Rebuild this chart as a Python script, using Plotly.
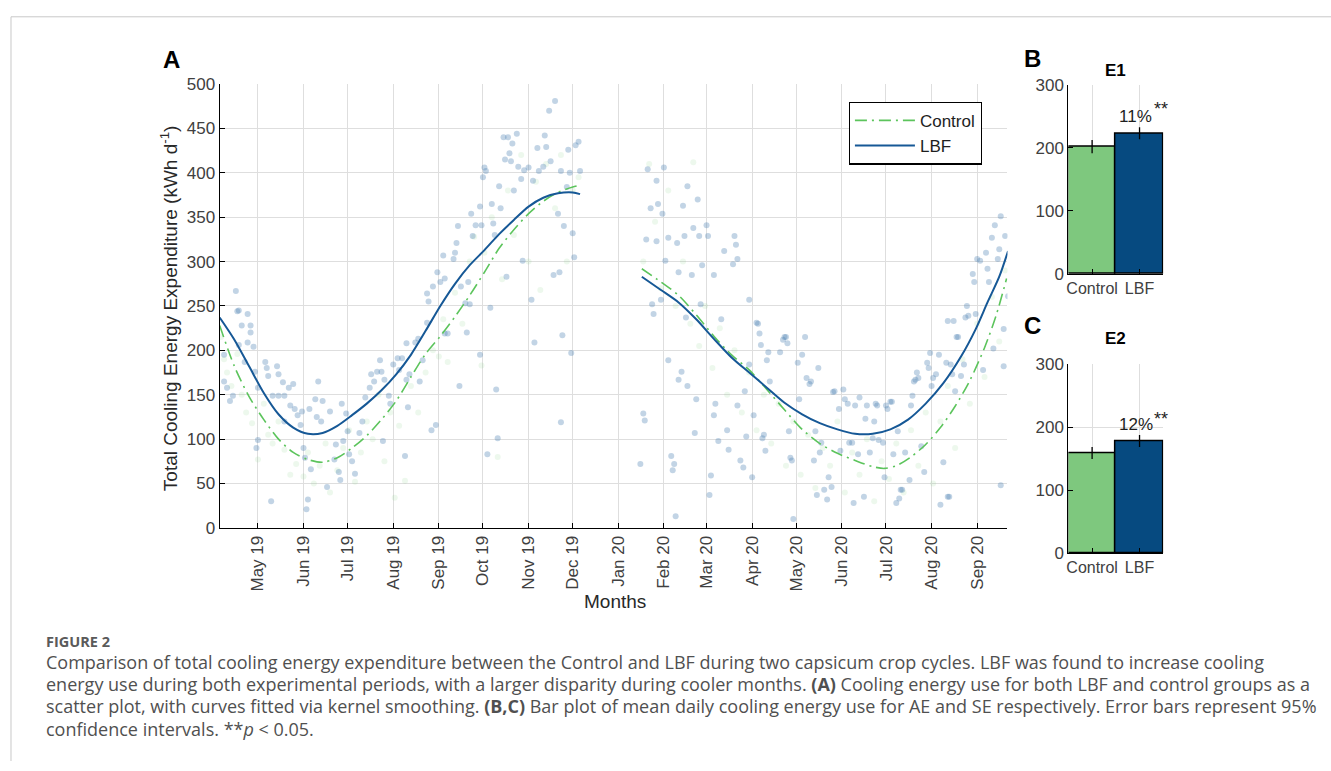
import pandas as pd
import plotly.graph_objects as go

W, H = 1331, 771

# ---------------- data ----------------
start_date = "2019-04-05"

# LBF daily cooling energy (day offset from start_date, kWh/d)
lbf_day = [3, 3, 5, 7, 9, 12, 15, 13, 19, 21, 23, 17, 24, 26, 26, 25, 31, 32, 33, 35, 36, 39, 40, 40, 43, 44, 47, 44, 48,
           50, 51, 53, 55, 56, 57, 58, 60, 61, 59, 62, 65, 66, 67, 69, 70, 73, 75, 78, 79, 81, 82, 83, 84, 86, 87, 88,
           90, 92, 95, 97, 99, 102, 103, 105, 107, 109, 110, 111, 112, 115, 116, 118, 121, 124, 122, 126, 127, 128, 129,
           127, 133, 135, 136, 138, 141, 144, 147, 153, 155, 163, 168, 170, 177, 182, 184, 188, 189, 214, 232, 233, 239,
           11, 13, 19, 21, 141, 142, 145, 148, 150, 152, 153, 159, 160, 161, 162, 164, 167, 169, 171, 172, 174, 177, 178,
           179, 180, 181, 185, 186, 187, 190, 191, 193, 194, 195, 196, 197, 198, 199, 200, 202, 203, 205, 206, 207, 210,
           212, 213, 216, 217, 220, 221, 222, 224, 225, 227, 228, 230, 231, 232, 234, 236, 237, 238, 240, 241, 242, 244,
           245,
           291, 297, 293, 298, 301, 302, 290, 297, 300, 294, 295, 305, 311, 315, 316, 303, 312, 318, 322, 321, 317, 325,
           326, 328, 331, 332, 327, 336, 341, 343, 349, 350, 351, 352, 360, 366, 384, 398, 495, 499, 508, 512, 515, 517,
           521, 522, 525, 527, 531, 534, 530, 529, 513, 523, 536, 533, 507, 501,
           288, 289, 286, 305, 314, 312, 318, 307, 309, 308, 310, 324, 323, 334, 333, 337, 336, 339, 345, 346, 352, 354,
           356, 358, 357, 360, 362, 363, 365, 367, 368, 369, 370, 371, 372, 373, 374, 381, 383, 385, 386, 387, 388, 389,
           390, 393, 394, 396, 399, 402, 401, 404, 405, 406, 407, 408, 409, 411, 413, 414, 416, 417, 418, 421, 422, 424,
           425, 427, 428, 430, 431, 432, 434, 435, 438, 439, 440, 442, 444, 445, 446, 447, 448, 451, 452, 453, 454, 456,
           457, 458, 460, 461, 462, 463, 464, 466, 469, 470, 471, 472, 473, 474, 475, 477, 479, 481, 482, 483, 484, 485,
           487, 489, 490, 492, 494, 495, 496, 497, 498, 500, 502, 504, 506, 509, 514, 519, 526, 533, 531]
lbf_val = [195, 165, 158, 143, 149, 244, 228, 206, 209, 220, 204, 187, 176, 158, 99, 90, 187, 180, 171, 30, 149, 182, 173,
           149, 164, 149, 158, 120, 138, 162, 134, 127, 116, 131, 90, 79, 32, 134, 21, 66, 145, 125, 165, 120, 143, 46,
           131, 77, 94, 63, 54, 140, 98, 129, 109, 83, 75, 61, 107, 120, 147, 158, 173, 165, 176, 189, 176, 98, 167, 149,
           140, 184, 191, 191, 178, 81, 167, 136, 173, 208, 209, 213, 165, 189, 231, 110, 116, 219, 219, 160, 220, 252,
           195, 83, 248, 156, 101, 209, 119, 217, 197,
           267, 245, 241, 228, 264, 255, 272, 288, 277, 307, 281, 303, 310, 321, 340, 272, 253, 277, 354, 329, 341, 362,
           341, 395, 406, 402, 365, 343, 330, 385, 360, 440, 415, 283, 440, 422, 413, 433, 380, 444, 407, 393, 301, 403,
           406, 257, 391, 428, 402, 407, 442, 429, 470, 413, 285, 481, 354, 288, 402, 340, 384, 426, 400, 332, 305, 431,
           435, 402,
           404, 391, 360, 365, 354, 406, 325, 323, 257, 252, 241, 327, 321, 363, 329, 301, 288, 385, 338, 285, 237, 370,
           329, 296, 341, 329, 252, 285, 235, 312, 297, 329, 319, 303, 257, 230, 215, 215, 233, 233, 250, 286, 303, 301,
           310, 292, 327, 341, 351, 329, 314, 303, 277, 277, 261, 224, 237, 215,
           129, 121, 72, 189, 176, 167, 160, 81, 72, 65, 13, 145, 107, 59, 37, 140, 127, 98, 110, 88, 138, 76, 68, 103,
           154, 184, 57, 127, 231, 219, 206, 101, 105, 87, 189, 198, 165, 198, 212, 215, 208, 109, 79, 76, 10, 186, 145,
           195, 169, 165, 162, 76, 109, 37, 180, 85, 96, 43, 32, 57, 46, 153, 154, 134, 87, 156, 145, 140, 96, 96, 28,
           138, 83, 147, 35, 123, 138, 85, 101, 120, 140, 138, 99, 96, 57, 138, 134, 142, 142, 83, 28, 109, 33, 43, 43,
           85, 54, 138, 149, 165, 167, 175, 169, 92, 63, 186, 180, 197, 160, 169, 173, 195, 26, 74, 186, 35, 35, 184,
           173, 154, 215, 171, 184, 239, 241, 178, 202, 182, 48]

# Control daily cooling energy (faint points)
ctl_day = [1, 3, 5, 8, 12, 15, 18, 22, 26, 30, 33, 36, 40, 44, 48, 52, 57, 60, 64, 68, 72, 75, 80, 84, 88, 92, 96, 100,
           104, 108, 112, 116, 119, 122, 126, 130, 135, 140, 145, 149, 152, 155, 160, 165, 170, 173, 178, 180, 185, 189,
           192, 196, 200, 205, 210, 215, 218, 222, 228, 232, 236, 240, 244,
           288, 292, 296, 300, 305, 310, 315, 320, 322, 326, 330, 335, 340, 345, 350, 355, 360, 365, 370, 375, 380, 385,
           390, 395, 400, 405, 410, 415, 420, 425, 430, 435, 440, 445, 450, 455, 460, 465, 470, 475, 480, 485, 490, 495,
           500, 505, 510, 515, 520, 525, 530, 534]
ctl_val = [215, 190, 175, 160, 196, 150, 130, 118, 77, 140, 105, 95, 120, 88, 60, 72, 58, 85, 50, 70, 95, 40, 65, 90,
           110, 52, 85, 120, 100, 150, 75, 130, 34, 115, 53, 160, 130, 175, 200, 193, 235, 187, 265, 230, 300, 328, 183,
           310, 350, 80, 280, 380, 330, 420, 300, 390, 268, 410, 360, 420, 300, 380, 395,
           300, 410, 345, 270, 380, 250, 300, 230, 412, 205, 250, 180, 225, 150, 200, 130, 175, 110, 150, 95, 140, 70,
           120, 60, 105, 45, 90, 70, 120, 40, 85, 60, 100, 30, 75, 55, 95, 40, 110, 70, 130, 50, 120, 160, 90, 190, 140,
           230, 170, 260, 210, 290]

# Kernel-smoothed fits (read at knots)
lbf_fit1_day = [0, 10, 20, 30, 40, 50, 60, 70, 80, 90, 100, 110, 120, 130, 140, 150, 160, 170, 180, 190, 200, 210, 220,
                230, 240, 245]
lbf_fit1_val = [237, 212, 182, 152, 128, 113, 106, 107, 115, 127, 140, 155, 173, 195, 222, 250, 275, 296, 313, 331,
                347, 362, 372, 377, 378, 376]
lbf_fit2_day = [287, 300, 312, 324, 336, 348, 360, 372, 384, 396, 408, 420, 432, 444, 456, 468, 480, 492, 504, 514, 522,
                530, 536]
lbf_fit2_val = [283, 268, 254, 235, 213, 192, 175, 158, 141, 128, 118, 111, 106, 106, 111, 122, 140, 163, 193, 224, 254,
                283, 312]
ctl_fit1_day = [0, 10, 20, 30, 40, 50, 60, 70, 80, 90, 100, 110, 120, 130, 140, 150, 160, 170, 180, 190, 200, 210, 220,
                230, 240, 245]
ctl_fit1_val = [228, 182, 148, 122, 100, 85, 77, 74, 79, 90, 104, 122, 143, 170, 196, 216, 238, 262, 288, 315, 336, 354,
                368, 378, 384, 386]
ctl_fit2_day = [287, 300, 312, 324, 336, 348, 360, 372, 384, 396, 408, 420, 432, 444, 452, 460, 470, 480, 490, 500, 510,
                520, 528, 535]
ctl_fit2_val = [292, 277, 262, 240, 216, 195, 178, 156, 133, 111, 95, 84, 76, 69, 67, 70, 80, 94, 113, 137, 166, 203, 240,
                281]

month_ticks = ["2019-05-01", "2019-06-01", "2019-07-01", "2019-08-01", "2019-09-01", "2019-10-01", "2019-11-01",
               "2019-12-01", "2020-01-01", "2020-02-01", "2020-03-01", "2020-04-01", "2020-05-01", "2020-06-01",
               "2020-07-01", "2020-08-01", "2020-09-01"]
month_labels = ["May 19", "Jun 19", "Jul 19", "Aug 19", "Sep 19", "Oct 19", "Nov 19", "Dec 19", "Jan 20", "Feb 20",
                "Mar 20", "Apr 20", "May 20", "Jun 20", "Jul 20", "Aug 20", "Sep 20"]

groups = ["Control", "LBF"]
e1_mean = [202, 223]
e1_ci = [10.5, 9.5]
e2_mean = [159, 178]
e2_ci = [9.5, 9.5]
e1_pct = "11%"
e2_pct = "12%"

# ---------------- helpers ----------------
base = pd.Timestamp(start_date)


def to_dates(days):
    return [base + pd.Timedelta(days=d) for d in days]


def with_gap(d1, v1, d2, v2):
    return to_dates(d1) + [None] + to_dates(d2), list(v1) + [None] + list(v2)


GREEN_LINE = "rgb(92,196,92)"
BLUE_LINE = "rgb(22,88,150)"
BAR_GREEN = "rgb(126,200,126)"
BAR_BLUE = "rgb(6,74,128)"
GRID = "rgb(222,222,222)"
TICKC = "rgb(64,64,64)"
FONT = "Liberation Sans, Arial, sans-serif"

fig = go.Figure()

# scatter points
fig.add_trace(go.Scatter(x=to_dates(ctl_day), y=ctl_val, mode="markers", showlegend=False,
                         marker=dict(size=6, color="rgb(110,195,110)", opacity=0.12, line=dict(width=0)),
                         xaxis="x", yaxis="y", hoverinfo="skip"))
fig.add_trace(go.Scatter(x=to_dates(lbf_day), y=lbf_val, mode="markers", showlegend=False,
                         marker=dict(size=6, color="rgb(70,125,175)", opacity=0.33, line=dict(width=0)),
                         xaxis="x", yaxis="y", hoverinfo="skip"))

# fitted curves
cx, cy = with_gap(ctl_fit1_day, ctl_fit1_val, ctl_fit2_day, ctl_fit2_val)
fig.add_trace(go.Scatter(x=cx, y=cy, mode="lines", name="Control", connectgaps=False,
                         line=dict(color=GREEN_LINE, width=1.6, dash="12px,5px,2px,5px", shape="spline",
                                   smoothing=0.8),
                         xaxis="x", yaxis="y"))
lx, ly = with_gap(lbf_fit1_day, lbf_fit1_val, lbf_fit2_day, lbf_fit2_val)
fig.add_trace(go.Scatter(x=lx, y=ly, mode="lines", name="LBF", connectgaps=False,
                         line=dict(color=BLUE_LINE, width=2, shape="spline", smoothing=0.8),
                         xaxis="x", yaxis="y"))

# bars
for means, cis, xa, ya in [(e1_mean, e1_ci, "x2", "y2"), (e2_mean, e2_ci, "x3", "y3")]:
    fig.add_trace(go.Bar(x=groups, y=means, width=1, showlegend=False,
                         marker=dict(color=[BAR_GREEN, BAR_BLUE], line=dict(color="black", width=1.5)),
                         error_y=dict(type="data", array=cis, color="black", thickness=1.3, width=0),
                         xaxis=xa, yaxis=ya))


# ---------------- layout ----------------
def px_x(p):
    return p / W


def px_y(p):
    return 1 - p / H


axA_x = [px_x(218), px_x(1007)]
axA_y = [px_y(532), px_y(77)]
axB_x = [px_x(1068), px_x(1163)]
axB_y = [px_y(271.7), px_y(77.7)]
axC_y = [px_y(557.7), px_y(364.3)]


def axis_style(size):
    return dict(showline=True, linecolor="black", linewidth=1.2, ticks="inside", ticklen=5, tickcolor="black",
                showgrid=True, gridcolor=GRID, gridwidth=1, zeroline=False,
                tickfont=dict(family=FONT, size=size, color=TICKC))


fig.update_layout(
    width=W, height=H, margin=dict(l=0, r=0, t=0, b=0), paper_bgcolor="white", plot_bgcolor="white",
    bargap=0, font=dict(family=FONT, color="black"),
    xaxis=dict(domain=axA_x, anchor="y", type="date",
               range=[base, base + pd.Timedelta(days=535.6)],
               tickvals=month_ticks, ticktext=month_labels, tickangle=-90, **axis_style(17)),
    yaxis=dict(domain=axA_y, anchor="x", range=[0, 500], dtick=50, **axis_style(17)),
    xaxis2=dict(domain=axB_x, anchor="y2", type="category", range=[-0.5, 1.5], **axis_style(16)),
    yaxis2=dict(domain=axB_y, anchor="x2", range=[0, 300], dtick=100, **axis_style(17)),
    xaxis3=dict(domain=axB_x, anchor="y3", type="category", range=[-0.5, 1.5], **axis_style(16)),
    yaxis3=dict(domain=axC_y, anchor="x3", range=[0, 300], dtick=100, **axis_style(17)),
    legend=dict(x=px_x(848), y=px_y(95), xanchor="left", yanchor="top", bgcolor="white",
                bordercolor="black", borderwidth=1.2, font=dict(family=FONT, size=17, color="rgb(30,30,30)"),
                tracegroupgap=0, itemwidth=60),
    showlegend=True,
)

ann = []


def add_text(x, y, text, size, bold=False, xanchor="center", color="black", angle=0, family=FONT, **kw):
    ann.append(dict(x=px_x(x), y=px_y(y), xref="paper", yref="paper", text=f"<b>{text}</b>" if bold else text,
                    showarrow=False, xanchor=xanchor, yanchor="middle", textangle=angle,
                    font=dict(family=family, size=size, color=color), **kw))


add_text(170, 52, "A", 24, bold=True)
add_text(1032, 51, "B", 24, bold=True)
add_text(1032, 324, "C", 24, bold=True)
add_text(1115, 63, "E1", 17, bold=True)
add_text(1115, 338, "E2", 17, bold=True)
add_text(614, 607, "Months", 19, color="rgb(40,40,40)")
add_text(168, 307, "Total Cooling Energy Expenditure (kWh d<sup>-1</sup>)", 19, angle=-90, color="rgb(40,40,40)")

# bar annotations: percentage labels in data coords, significance stars beside them
for pct, ypct, ya, xa in [(e1_pct, 250, "y2", "x2"), (e2_pct, 204, "y3", "x3")]:
    ann.append(dict(x=0.92, y=ypct, xref=xa, yref=ya, text=pct, showarrow=False,
                    font=dict(family=FONT, size=17, color="rgb(30,30,30)"), xanchor="center", yanchor="middle"))
add_text(1161, 103, "**", 18, color="rgb(30,30,30)")
add_text(1161, 420, "**", 18, color="rgb(30,30,30)")

# caption
CAP_FONT = "Open Sans, Noto Sans, sans-serif"
CAP_COLOR = "rgb(80,80,80)"
add_text(42, 648, "<b>FIGURE 2</b>", 14.5, xanchor="left", color="rgb(90,90,90)", family=CAP_FONT)
cap_lines = [
    "Comparison of total cooling energy expenditure between the Control and LBF during two capsicum crop cycles. LBF was found to increase cooling",
    "energy use during both experimental periods, with a larger disparity during cooler months. <b>(A)</b> Cooling energy use for both LBF and control groups as a",
    "scatter plot, with curves fitted via kernel smoothing. <b>(B,C)</b> Bar plot of mean daily cooling energy use for AE and SE respectively. Error bars represent 95%",
    "confidence intervals. **<i>p</i> &lt; 0.05.",
]
for i, line in enumerate(cap_lines):
    add_text(42, 669 + 23 * i, line, 18, xanchor="left", color=CAP_COLOR, family=CAP_FONT)

fig.update_layout(annotations=ann)

# page frame lines
fig.update_layout(shapes=[
    dict(type="line", xref="paper", yref="paper", x0=px_x(9), x1=1, y0=px_y(8), y1=px_y(8),
         line=dict(color="rgb(200,200,200)", width=1)),
    dict(type="line", xref="paper", yref="paper", x0=px_x(9), x1=px_x(9), y0=0, y1=px_y(8),
         line=dict(color="rgb(200,200,200)", width=1)),
])

fig.write_html("out.html")
